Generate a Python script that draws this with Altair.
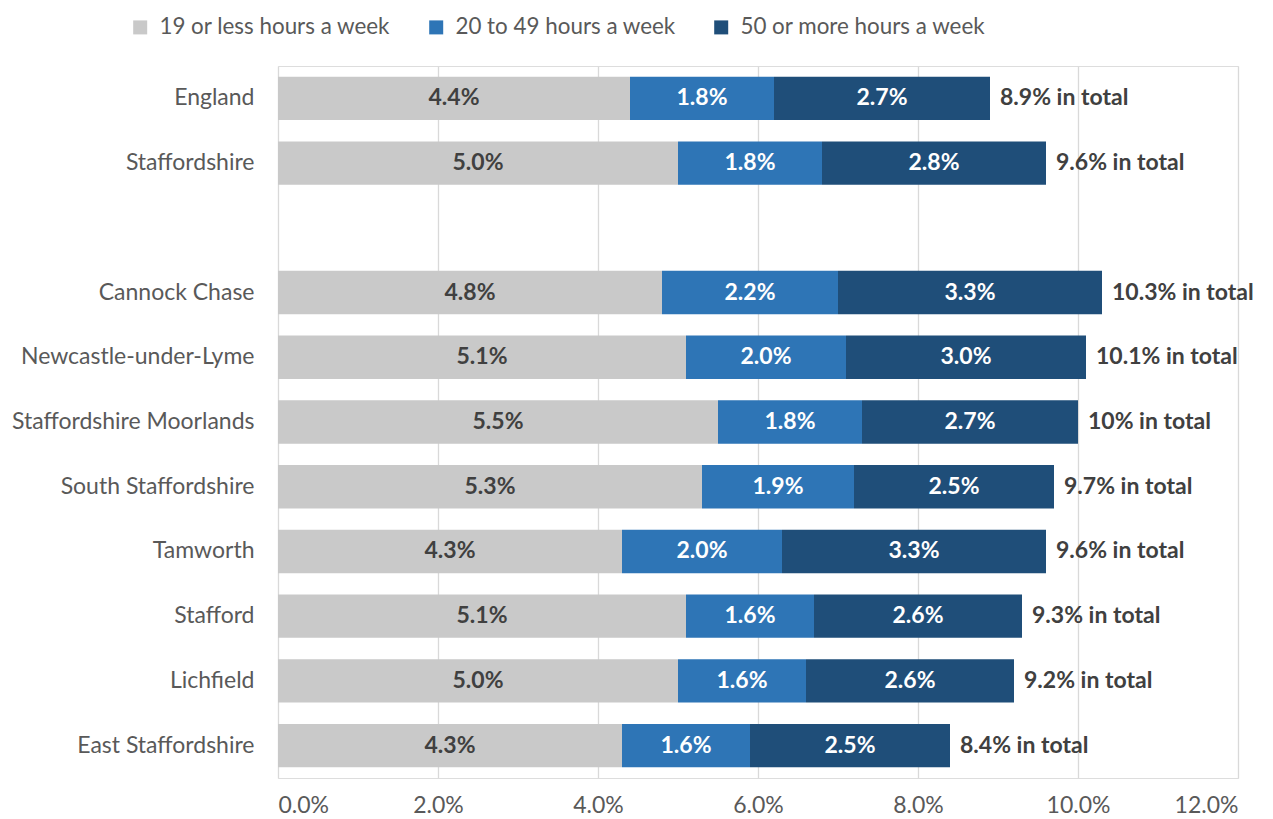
import altair as alt
import pandas as pd

categories = ["England", "Staffordshire", " ", "Cannock Chase", "Newcastle-under-Lyme",
              "Staffordshire Moorlands", "South Staffordshire", "Tamworth", "Stafford",
              "Lichfield", "East Staffordshire"]
series = ["19 or less hours a week", "20 to 49 hours a week", "50 or more hours a week"]
low = [4.4, 5.0, None, 4.8, 5.1, 5.5, 5.3, 4.3, 5.1, 5.0, 4.3]
mid = [1.8, 1.8, None, 2.2, 2.0, 1.8, 1.9, 2.0, 1.6, 1.6, 1.6]
high = [2.7, 2.8, None, 3.3, 3.0, 2.7, 2.5, 3.3, 2.6, 2.6, 2.5]
total_labels = ["8.9% in total", "9.6% in total", "", "10.3% in total", "10.1% in total",
                "10% in total", "9.7% in total", "9.6% in total", "9.3% in total",
                "9.2% in total", "8.4% in total"]
colors = ["#C9C9C9", "#2E75B6", "#1F4E79"]
text_colors = ["#404040", "#FFFFFF", "#FFFFFF"]

rows = []
totals = []
for i, c in enumerate(categories):
    vals = [low[i], mid[i], high[i]]
    if vals[0] is None:
        continue
    start = 0.0
    for j, s in enumerate(series):
        end = start + vals[j]
        rows.append({"cat": c, "series": s, "order": j, "start": start, "end": end,
                     "mid": (start + end) / 2, "label": f"{vals[j]:.1f}%",
                     "tcolor": text_colors[j]})
        start = end
    totals.append({"cat": c, "end": start, "label": total_labels[i]})

df = pd.DataFrame(rows)
tdf = pd.DataFrame(totals)

FONT = "Lato"
FS = 23
y_enc = alt.Y("cat:N", sort=categories, title=None,
              scale=alt.Scale(domain=categories, paddingInner=0.33, paddingOuter=0.165),
              axis=alt.Axis(domain=False, ticks=False, labelPadding=24, labelFontSize=FS,
                            labelColor="#595959", labelFont=FONT, labelLimit=0,
                            labelExpr="datum.value == ' ' ? '' : datum.value"))
x_scale = alt.Scale(domain=[0, 12], nice=False)
x_axis = alt.Axis(values=[0, 2, 4, 6, 8, 10, 12], labelExpr="format(datum.value, '.1f') + '%'",
                  domain=False, ticks=False, grid=True, gridColor="#D9D9D9", gridWidth=1.3,
                  labelPadding=16, labelFontSize=FS, labelColor="#595959", labelFont=FONT,
                  title=None)

bars = alt.Chart(df).mark_bar().encode(
    y=y_enc,
    x=alt.X("start:Q", scale=x_scale, axis=x_axis),
    x2="end:Q",
    color=alt.Color("series:N", sort=series,
                    scale=alt.Scale(domain=series, range=colors),
                    legend=alt.Legend(orient="none", direction="horizontal", title=None,
                                      legendX=-149, legendY=-50,
                                      symbolType="square", symbolSize=196,
                                      symbolStrokeWidth=0, labelFontSize=22.4,
                                      labelColor="#595959", labelFont=FONT, labelLimit=0,
                                      labelOffset=8, columnPadding=34)),
)

texts = alt.Chart(df).mark_text(fontSize=FS, fontWeight="bold", font=FONT).encode(
    y=alt.Y("cat:N", sort=categories),
    x=alt.X("mid:Q"),
    text="label:N",
    color=alt.Color("tcolor:N", scale=None),
)

tot = alt.Chart(tdf).mark_text(fontSize=FS, fontWeight="bold", font=FONT, align="left",
                               dx=10, color="#404040").encode(
    y=alt.Y("cat:N", sort=categories),
    x=alt.X("end:Q"),
    text="label:N",
)

chart = alt.layer(bars, texts, tot).properties(
    width=960, height=712,
    autosize=alt.AutoSizeParams(type="none"),
    padding={"left": 270, "top": 58, "right": 20, "bottom": 41},
).configure_view(stroke="transparent", strokeWidth=0).configure(background="white")

chart.save("out.html", embed_options={"renderer": "svg", "actions": False})
